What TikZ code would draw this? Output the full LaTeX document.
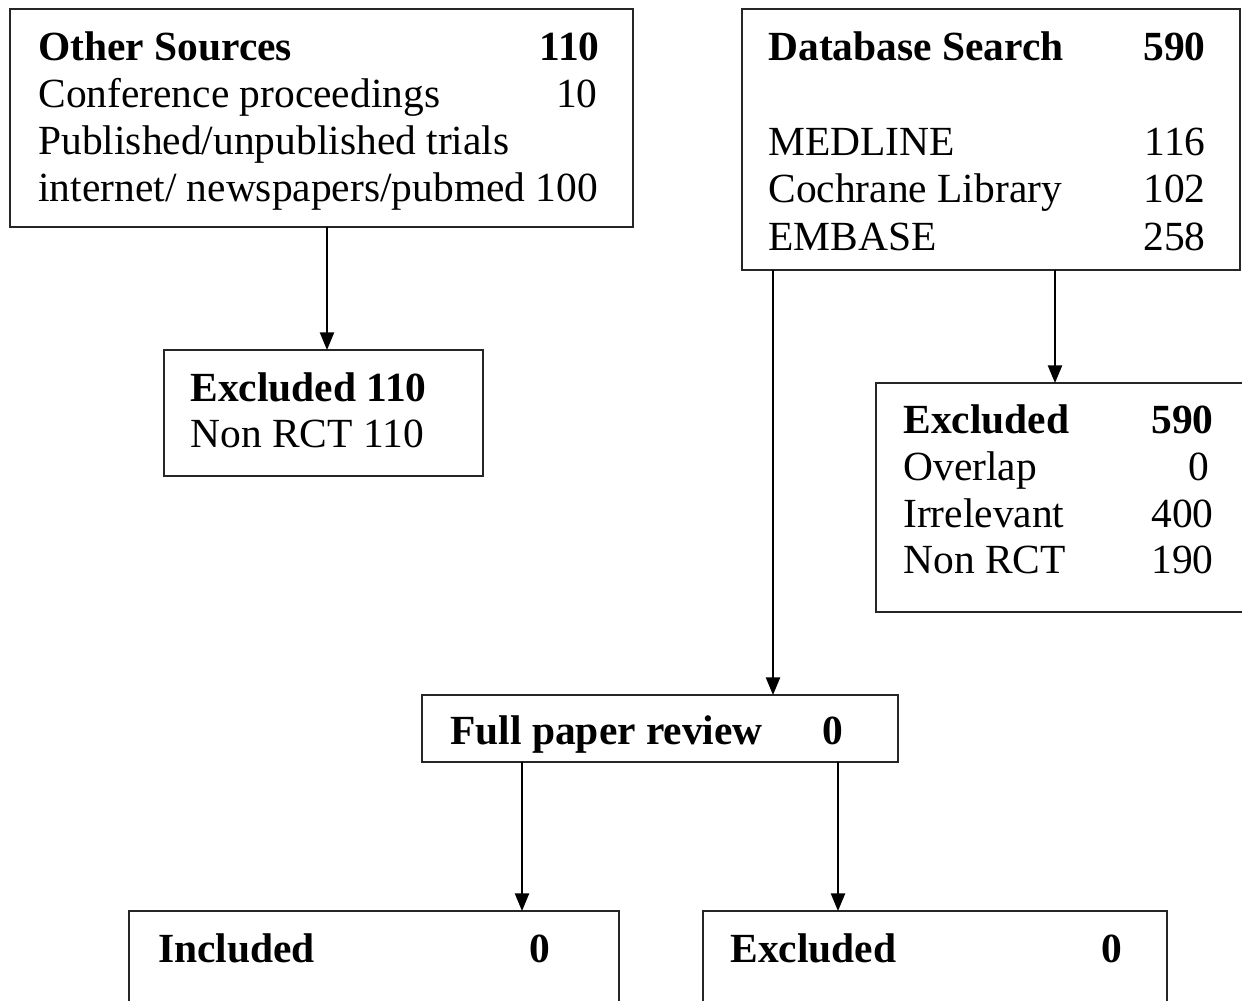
\documentclass[tikz,border=0pt]{standalone}
\usepackage{fontspec}
\setmainfont{Liberation Serif}
\usetikzlibrary{arrows.meta}
\begin{document}
\begin{tikzpicture}[x=0.02cm,y=-0.02cm,
  box/.style={draw=black!85,line width=1.1pt,inner sep=0pt,outer sep=0pt,anchor=north west},
  tl/.style={anchor=base west,inner sep=0pt,font=\fontsize{23.6}{27}\selectfont},
  tr/.style={anchor=base east,inner sep=0pt,font=\fontsize{23.6}{27}\selectfont},
  bf/.style={font=\fontsize{23.6}{27}\selectfont\bfseries},
  arr/.style={line width=1.1pt,-{Triangle[length=10pt,width=8pt]}}]
\useasboundingbox (0,0) rectangle (1242,1001);
\clip (0,0) rectangle (1242,1001);
% boxes
\node[box,minimum width=12.46cm,minimum height=4.36cm] (os) at (10,9) {};
\node[box,minimum width=9.96cm,minimum height=5.22cm] (db) at (742,9) {};
\node[box,minimum width=6.38cm,minimum height=2.52cm] (ex1) at (164,350) {};
\node[box,minimum width=8.0cm,minimum height=4.58cm] (ex2) at (876,383) {};
\node[box,minimum width=9.52cm,minimum height=1.34cm] (fp) at (422,695) {};
\node[box,minimum width=9.8cm,minimum height=3cm] (inc) at (129,911) {};
\node[box,minimum width=9.28cm,minimum height=3cm] (exc) at (703,911) {};
% Other sources text
\node[tl,bf] (osa) at (38,60) {Other Sources};
\node[tr,bf] (osb) at (600,60) {110};
\node[tl] (osc) at (38,107) {Conference proceedings};
\node[tr] (osd) at (598,107) {10};
\node[tl] (ose) at (38,154) {Published/unpublished trials};
\node[tl] (osf) at (38,201) {internet/ newspapers/pubmed 100};
% Database
\node[tl,bf] (dba) at (768,60) {Database Search};
\node[tr,bf] (dbb) at (1206,60) {590};
\node[tl] (dbc) at (768,155) {MEDLINE};
\node[tr] (dbd) at (1206,155) {116};
\node[tl] (dbe) at (768,202) {Cochrane Library};
\node[tr] (dbf) at (1206,202) {102};
\node[tl] (dbg) at (768,250) {EMBASE};
\node[tr] (dbh) at (1206,250) {258};
% Excluded 110
\node[tl,bf] (e1a) at (190,401) {Excluded 110};
\node[tl] (e1b) at (190,447) {Non RCT 110};
% Excluded 590
\node[tl,bf] (e2a) at (903,433) {Excluded};
\node[tr,bf] (e2b) at (1214,433) {590};
\node[tl] (e2c) at (903,480) {Overlap};
\node[tr] (e2d) at (1210,480) {0};
\node[tl] (e2e) at (903,527) {Irrelevant};
\node[tr] (e2f) at (1214,527) {400};
\node[tl] (e2g) at (903,573) {Non RCT};
\node[tr] (e2h) at (1214,573) {190};
% Full paper
\node[tl,bf] (fpa) at (450,744) {Full paper review};
\node[tr,bf] (fpb) at (844,744) {0};
% bottom
\node[tl,bf] (inca) at (158,962) {Included};
\node[tr,bf] (incb) at (551,962) {0};
\node[tl,bf] (exca) at (730,962) {Excluded};
\node[tr,bf] (excb) at (1123,962) {0};
% arrows
\draw[arr] (327,0 |- os.south) -- (327,0 |- ex1.north);
\draw[arr] (1055,0 |- db.south) -- (1055,0 |- ex2.north);
\draw[arr] (773,0 |- db.south) -- (773,0 |- fp.north);
\draw[arr] (522,0 |- fp.south) -- (522,0 |- inc.north);
\draw[arr] (838,0 |- fp.south) -- (838,0 |- exc.north);
\end{tikzpicture}
\end{document}
